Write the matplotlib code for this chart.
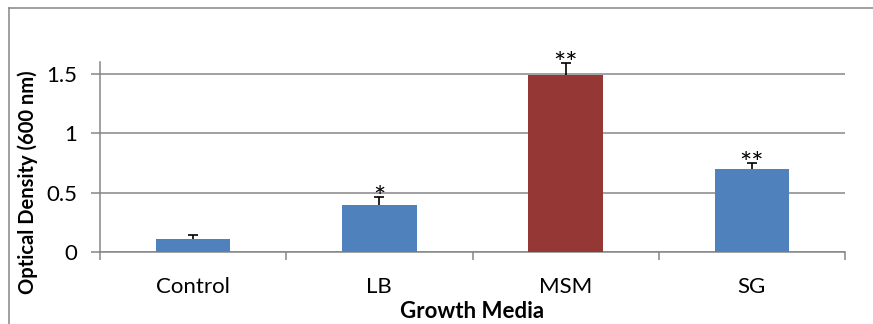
import matplotlib.pyplot as plt
from matplotlib.lines import Line2D
import numpy as np

# data
media = ['Control', 'LB', 'MSM', 'SG']
od600 = [0.11, 0.40, 1.49, 0.70]
od_err = [0.03, 0.06, 0.10, 0.05]
stars = ['', '*', '**', '**']
bar_colors = ['#4F81BD', '#4F81BD', '#953735', '#4F81BD']

plt.rcParams['font.family'] = ['Lato', 'DejaVu Sans']

fig = plt.figure(figsize=(8.73, 3.24), dpi=100)
ax = fig.add_axes([100 / 873, 72 / 324, 745 / 873, 190 / 324])

x = np.arange(len(media))
# error bars sit behind the bars, so only the upper half shows
ax.errorbar(x, od600, yerr=od_err, fmt='none',
            ecolor='black', elinewidth=1.2, capsize=3.6, capthick=1.2, zorder=2)
ax.bar(x, od600, width=0.4, color=bar_colors, zorder=3)
for xi, v, e, s in zip(x, od600, od_err, stars):
    if s:
        ax.text(xi, v + e - 0.085, s, ha='center', va='baseline', fontsize=21, zorder=5)

ax.set_xlim(-0.5, len(media) - 0.5)
ax.set_ylim(0, 1.6)
ax.set_yticks([0, 0.5, 1, 1.5])
ax.set_yticklabels(['0', '0.5', '1', '1.5'])
ax.set_xticks(x)
ax.set_xticklabels(media)
ax.set_xticks(np.arange(-0.5, len(media), 1), minor=True)
ax.tick_params(axis='x', which='major', length=0, pad=18, labelsize=16)
ax.tick_params(axis='x', which='minor', length=6, color='#868686', width=1.1)
ax.tick_params(axis='y', length=6.5, color='#868686', width=1.1, labelsize=16, pad=10)
ax.yaxis.grid(True, color='#868686', linewidth=1.1, zorder=0)

for side in ['top', 'right']:
    ax.spines[side].set_visible(False)
for side in ['left', 'bottom']:
    ax.spines[side].set_color('#868686')
    ax.spines[side].set_linewidth(1.1)

ax.set_xlabel('Growth Media', fontsize=16, fontweight='bold')
ax.xaxis.set_label_coords(0.499, -0.26)
ax.set_ylabel('Optical Density (600 nm)', fontsize=14.5, fontweight='bold')
ax.yaxis.set_label_coords(-0.083, 0.365)

# chart border (only top and left visible in the crop)
fig.add_artist(Line2D([9 / 873, 1.0], [1 - 8 / 324, 1 - 8 / 324], color='#868686', lw=1.1))
fig.add_artist(Line2D([9 / 873, 9 / 873], [0, 1 - 8 / 324], color='#868686', lw=1.1))

plt.savefig('out.png', dpi=100)
